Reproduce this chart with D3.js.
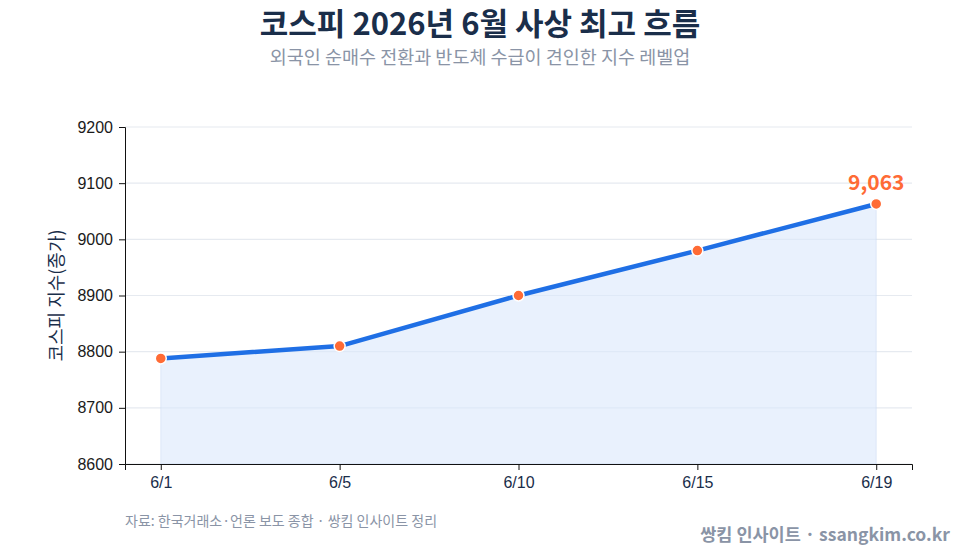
<!DOCTYPE html>
<html><head><meta charset="utf-8">
<script src="https://cdn.jsdelivr.net/npm/d3@7"></script>
<style>
html,body{margin:0;padding:0;background:#fff;}
svg{display:block;font-family:"Noto Sans CJK KR","Noto Sans",sans-serif;}
</style></head>
<body><svg id="c" width="960" height="552"></svg>
<script>
const categories = ["6/1","6/5","6/10","6/15","6/19"];
const values = [8788, 8810, 8900, 8980, 9063];
const yTicks = [8600,8700,8800,8900,9000,9100,9200];
const titleText = "코스피 2026년 6월 사상 최고 흐름";
const subtitleText = "외국인 순매수 전환과 반도체 수급이 견인한 지수 레벨업";
const yAxisLabel = "코스피 지수(종가)";
const sourceText = "자료: 한국거래소·언론 보도 종합 · 쌍킴 인사이트 정리";
const brandText = "쌍킴 인사이트 · ssangkim.co.kr";

const svg = d3.select("#c");
const m = {l:125, r:912, t:127, b:464};
const x = d3.scalePoint().domain(categories).range([m.l, m.r]).padding(0.2);
const y = d3.scaleLinear().domain([8600, 9200]).range([m.b, m.t]);

svg.append("text").attr("x",480).attr("y",35).attr("text-anchor","middle")
  .attr("font-size",31).attr("font-weight",700).attr("fill","#1a2e4a").text(titleText);
svg.append("text").attr("x",480).attr("y",64).attr("text-anchor","middle")
  .attr("font-size",18.5).attr("fill","#8a94a6").text(subtitleText);

// grid
svg.append("g").selectAll("line").data(yTicks).join("line")
  .attr("x1",m.l).attr("x2",m.r).attr("y1",d=>y(d)).attr("y2",d=>y(d))
  .attr("stroke","#e6eaf0").attr("stroke-width",1.2);

const data = categories.map((c,i)=>({c, v:values[i]}));
// area
svg.append("path").datum(data)
  .attr("d", d3.area().x(d=>x(d.c)).y0(y(8600)).y1(d=>y(d.v)))
  .attr("fill","#dbe7fb").attr("fill-opacity",0.6)
  .attr("stroke","#c9d9f3").attr("stroke-width",0.8).attr("stroke-opacity",0.6);

// axes
const ya = svg.append("g").attr("transform",`translate(${m.l},0)`)
  .call(d3.axisLeft(y).tickValues(yTicks).tickSize(6).tickPadding(6).tickFormat(d3.format("d")));
ya.selectAll("text").attr("font-size",16).attr("fill","#1a1a1a");
ya.selectAll("path,line").attr("stroke","#111");
const xa = svg.append("g").attr("transform",`translate(0,${m.b})`)
  .call(d3.axisBottom(x).tickSize(6).tickPadding(7));
xa.selectAll("text").attr("font-size",16).attr("fill","#1a2e4a");
xa.selectAll("path,line").attr("stroke","#111");

svg.append("text").attr("transform",`translate(63,${(m.t+m.b)/2}) rotate(-90)`)
  .attr("text-anchor","middle").attr("font-size",18).attr("fill","#1a2e4a").text(yAxisLabel);

// line
svg.append("path").datum(data)
  .attr("d", d3.line().x(d=>x(d.c)).y(d=>y(d.v)))
  .attr("fill","none").attr("stroke","#1f6fe5").attr("stroke-width",4.5).attr("stroke-linejoin","round");

svg.append("g").selectAll("circle").data(data).join("circle")
  .attr("cx",d=>x(d.c)).attr("cy",d=>y(d.v)).attr("r",5.5)
  .attr("fill","#ff6b35").attr("stroke","#fff").attr("stroke-width",1.5);

const last = data[data.length-1];
svg.append("text").attr("x",x(last.c)).attr("y",y(last.v)-14).attr("text-anchor","middle")
  .attr("font-size",21).attr("font-weight",700).attr("fill","#ff6b35").text(d3.format(",")(last.v));

svg.append("text").attr("x",125).attr("y",526).attr("font-size",14).attr("fill","#8a94a6").text(sourceText);
svg.append("text").attr("x",950).attr("y",541).attr("text-anchor","end")
  .attr("font-size",17.5).attr("font-weight",700).attr("fill","#8a94a6").text(brandText);
</script></body></html>
